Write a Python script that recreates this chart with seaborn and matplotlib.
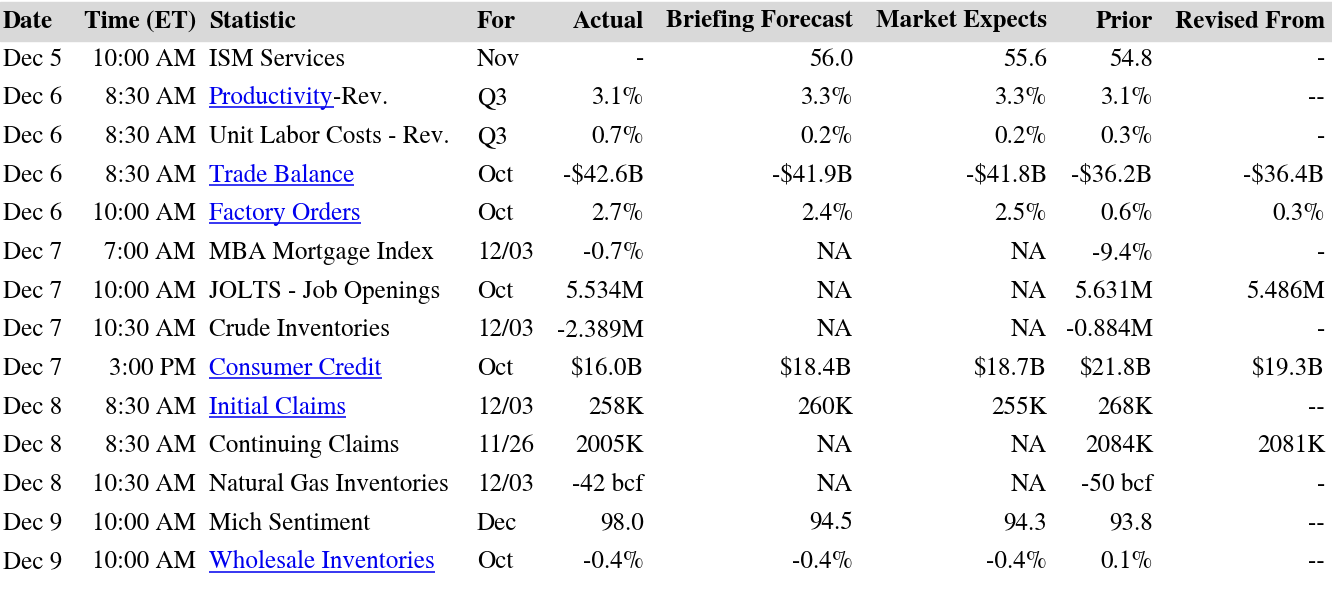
import matplotlib
matplotlib.use("Agg")
import matplotlib.pyplot as plt
from matplotlib import font_manager
from matplotlib.font_manager import FontProperties
import seaborn as sns

sns.set_theme(style="white")
plt.rcParams['font.family'] = ['TeX Gyre Termes', 'Liberation Serif', 'DejaVu Serif']

headers = ["Date", "Time (ET)", "Statistic", "For", "Actual", "Briefing Forecast",
           "Market Expects", "Prior", "Revised From"]
dates = ["Dec 5", "Dec 6", "Dec 6", "Dec 6", "Dec 6", "Dec 7", "Dec 7", "Dec 7", "Dec 7",
         "Dec 8", "Dec 8", "Dec 8", "Dec 9", "Dec 9"]
times = ["10:00 AM", "8:30 AM", "8:30 AM", "8:30 AM", "10:00 AM", "7:00 AM", "10:00 AM",
         "10:30 AM", "3:00 PM", "8:30 AM", "8:30 AM", "10:30 AM", "10:00 AM", "10:00 AM"]
statistics = ["ISM Services", "Productivity", "Unit Labor Costs - Rev.", "Trade Balance",
              "Factory Orders", "MBA Mortgage Index", "JOLTS - Job Openings",
              "Crude Inventories", "Consumer Credit", "Initial Claims", "Continuing Claims",
              "Natural Gas Inventories", "Mich Sentiment", "Wholesale Inventories"]
stat_suffix = ["", "-Rev.", "", "", "", "", "", "", "", "", "", "", "", ""]
linked = [False, True, False, True, True, False, False, False, True, True, False, False,
          False, True]
periods = ["Nov", "Q3", "Q3", "Oct", "Oct", "12/03", "Oct", "12/03", "Oct", "12/03",
           "11/26", "12/03", "Dec", "Oct"]
actual = ["-", "3.1%", "0.7%", "-$42.6B", "2.7%", "-0.7%", "5.534M", "-2.389M", "$16.0B",
          "258K", "2005K", "-42 bcf", "98.0", "-0.4%"]
briefing = ["56.0", "3.3%", "0.2%", "-$41.9B", "2.4%", "NA", "NA", "NA", "$18.4B", "260K",
            "NA", "NA", "94.5", "-0.4%"]
market = ["55.6", "3.3%", "0.2%", "-$41.8B", "2.5%", "NA", "NA", "NA", "$18.7B", "255K",
          "NA", "NA", "94.3", "-0.4%"]
prior = ["54.8", "3.1%", "0.3%", "-$36.2B", "0.6%", "-9.4%", "5.631M", "-0.884M", "$21.8B",
         "268K", "2084K", "-50 bcf", "93.8", "0.1%"]
revised = ["-", "--", "-", "-$36.4B", "0.3%", "-", "5.486M", "-", "$19.3B", "--", "2081K",
           "-", "--", "--"]


def find_font(families, bold):
    for family in families:
        cands = [f for f in font_manager.fontManager.ttflist
                 if f.name == family and f.style == "normal"]
        if bold:
            cands = [f for f in cands if (f.weight in ("bold", 700) or
                                          (isinstance(f.weight, int) and f.weight >= 600))]
        else:
            cands = [f for f in cands if f.weight in ("normal", "regular", "book", 400)]
        if cands:
            return cands[0].fname
    return None


FS = 18.1
fams = ["TeX Gyre Termes", "Liberation Serif", "FreeSerif"]
reg_path = find_font(fams, False)
bold_path = find_font(fams, True)
fp_reg = FontProperties(fname=reg_path, size=FS) if reg_path else \
    FontProperties(family="serif", size=FS)
fp_bold = FontProperties(fname=bold_path, size=FS) if bold_path else \
    FontProperties(family="serif", weight="bold", size=FS)

W, H = 1332, 590
fig = plt.figure(figsize=(W / 100, H / 100), dpi=100)
ax = fig.add_axes([0, 0, 1, 1])
ax.set_xlim(0, W)
ax.set_ylim(H, 0)
ax.axis("off")

# header band
ax.axhspan(2, 40.5, color="#d9d9d9", zorder=0)

LINK = "#0000ee"
cols = [(3, "left"), (196, "right"), (209, "left"), (477, "left"), (644, "right"),
        (853, "right"), (1047, "right"), (1153, "right"), (1325, "right")]

header_base = 27.5
for (x, ha), h in zip(cols, headers):
    ax.text(x, header_base, h, ha=ha, va="baseline", fontproperties=fp_bold,
            color="black")

row0 = 65.5
step = 38.68
fig.canvas.draw()
renderer = fig.canvas.get_renderer()
inv = ax.transData.inverted()

columns = [dates, times, None, periods, actual, briefing, market, prior, revised]
for i in range(len(dates)):
    y = row0 + i * step
    for (x, ha), data in zip(cols, columns):
        if data is None:
            color = LINK if linked[i] else "black"
            t = ax.text(x, y, statistics[i], ha="left", va="baseline",
                        fontproperties=fp_reg, color=color)
            bb = t.get_window_extent(renderer=renderer)
            (x0, _), (x1, _) = inv.transform([(bb.x0, bb.y0), (bb.x1, bb.y1)])
            if linked[i]:
                ax.plot([x0, x1], [y + 3.2, y + 3.2], color=LINK, lw=1.1,
                        solid_capstyle="butt")
            if stat_suffix[i]:
                ax.text(x1, y, stat_suffix[i], ha="left", va="baseline",
                        fontproperties=fp_reg, color="black")
        else:
            ax.text(x, y, data[i], ha=ha, va="baseline", fontproperties=fp_reg,
                    color="black")

fig.savefig("out.png", dpi=100, facecolor="white")
